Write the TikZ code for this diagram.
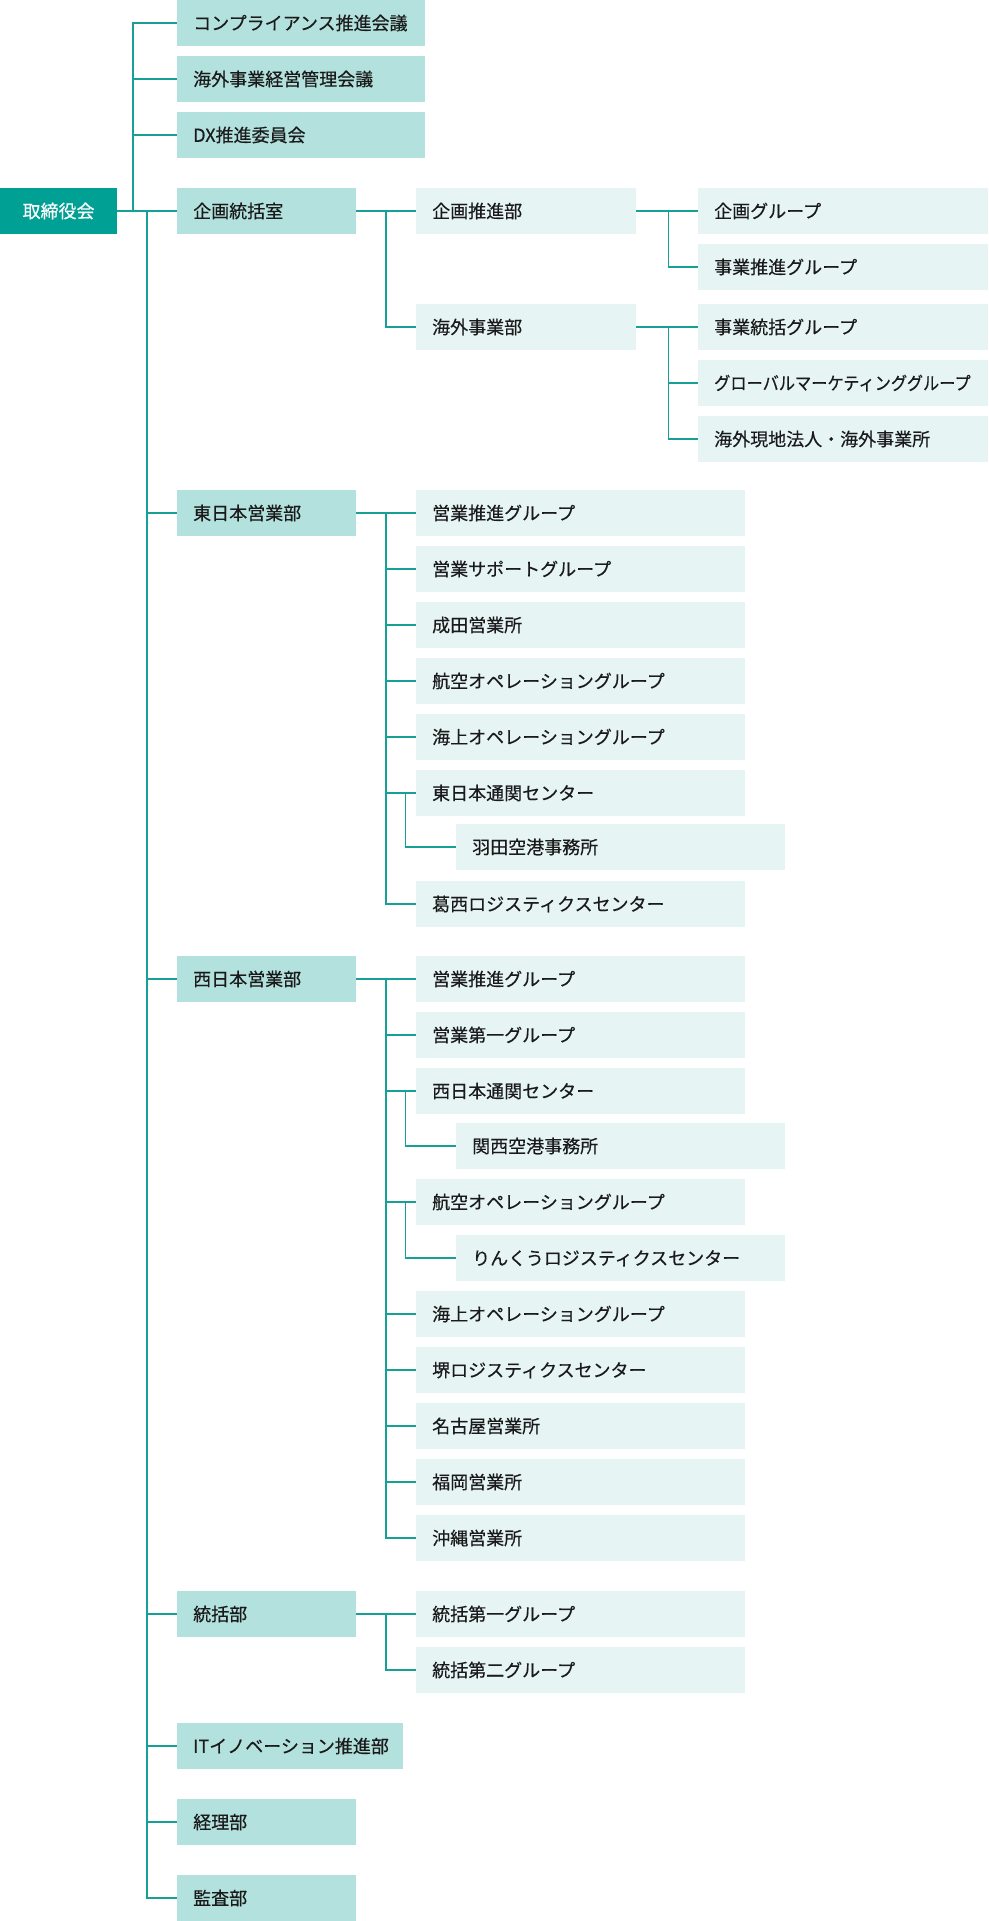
\documentclass[tikz,border=0pt]{standalone}
\usepackage{fontspec}
\newfontfamily\jp{Noto Sans CJK JP}[FakeBold=0.4]
\definecolor{dark}{HTML}{00A094}
\definecolor{mid}{HTML}{B3E2DE}
\definecolor{light}{HTML}{E6F5F4}
\definecolor{linec}{HTML}{17A196}
\definecolor{txt}{HTML}{1A1A1A}
\begin{document}
\begin{tikzpicture}[x=1pt,y=-1pt,
  bx/.style={anchor=north west, inner xsep=16pt, inner ysep=0pt, minimum height=45.7pt,
    align=left, text height=15.8pt, text depth=2.2pt,
    font=\jp\fontsize{18}{18}\selectfont, text=txt},
  lv0/.style={bx, fill=dark, text=white, inner xsep=0pt, text width=116.7pt, align=center},
  topbox/.style={bx, fill=mid, text width=216pt},
  dept/.style={bx, fill=mid, text width=147pt},
  subdept/.style={bx, fill=light, text width=187.7pt},
  grp/.style={bx, fill=light, text width=258pt},
  sec/.style={bx, fill=light, text width=297pt},
  ln/.style={draw=linec, line width=1.2pt}]
\useasboundingbox (0,0) rectangle (988,1921);

% level 0
\node[lv0] (board) at (0,188) {取締役会};

% committees
\node[topbox] (t1) at (177,0) {コンプライアンス推進会議};
\node[topbox] (t2) at (177,56) {海外事業経営管理会議};
\node[topbox] (t3) at (177,112) {DX推進委員会};

% departments
\node[dept] (d1) at (177,188) {企画統括室};
\node[dept] (d2) at (177,490) {東日本営業部};
\node[dept] (d3) at (177,956) {西日本営業部};
\node[dept] (d4) at (177,1591) {統括部};
\node[dept, text width=194pt] (d5) at (177,1723) {ITイノベーション推進部};
\node[dept] (d6) at (177,1799) {経理部};
\node[dept] (d7) at (177,1875) {監査部};

% 企画統括室
\node[subdept] (s1) at (416,188) {企画推進部};
\node[subdept] (s2) at (416,304) {海外事業部};
\node[grp] (g1) at (698,188) {企画グループ};
\node[grp] (g2) at (698,244) {事業推進グループ};
\node[grp] (g3) at (698,304) {事業統括グループ};
\node[grp] (g4) at (698,360) {\scalebox{0.9}[1]{グローバルマーケティンググループ}};
\node[grp] (g5) at (698,416) {海外現地法人・海外事業所};

% 東日本営業部
\node[sec] (e1) at (416,490) {営業推進グループ};
\node[sec] (e2) at (416,546) {営業サポートグループ};
\node[sec] (e3) at (416,602) {成田営業所};
\node[sec] (e4) at (416,658) {航空オペレーショングループ};
\node[sec] (e5) at (416,714) {海上オペレーショングループ};
\node[sec] (e6) at (416,770) {東日本通関センター};
\node[sec] (e6a) at (456,824) {羽田空港事務所};
\node[sec] (e7) at (416,881) {葛西ロジスティクスセンター};

% 西日本営業部
\node[sec] (w1) at (416,956) {営業推進グループ};
\node[sec] (w2) at (416,1012) {営業第一グループ};
\node[sec] (w3) at (416,1068) {西日本通関センター};
\node[sec] (w3a) at (456,1123) {関西空港事務所};
\node[sec] (w4) at (416,1179) {航空オペレーショングループ};
\node[sec] (w4a) at (456,1235) {りんくうロジスティクスセンター};
\node[sec] (w5) at (416,1291) {海上オペレーショングループ};
\node[sec] (w6) at (416,1347) {堺ロジスティクスセンター};
\node[sec] (w7) at (416,1403) {名古屋営業所};
\node[sec] (w8) at (416,1459) {福岡営業所};
\node[sec] (w9) at (416,1515) {沖縄営業所};

% 統括部
\node[sec] (k1) at (416,1591) {統括第一グループ};
\node[sec] (k2) at (416,1647) {統括第二グループ};

% junctions
\coordinate (ja) at (133,210.85);
\coordinate (jb) at (147,210.85);
\coordinate (jc) at (386,210.85);
\coordinate (jd) at (668.5,210.85);
\coordinate (je) at (668.5,326.85);
\coordinate (jf) at (386,512.85);
\coordinate (jg) at (405.5,792.85);
\coordinate (jh) at (386,978.85);
\coordinate (ji) at (405.5,1090.85);
\coordinate (jj) at (405.5,1201.85);
\coordinate (jk) at (386,1613.85);

% connectors
\draw[ln] (board.east) -- (d1.west);
\foreach \n in {t1,t2,t3} \draw[ln] (ja) |- (\n.west);
\foreach \n in {d2,d3,d4,d5,d6,d7} \draw[ln] (jb) |- (\n.west);

\draw[ln] (d1.east) -- (s1.west);
\draw[ln] (jc) |- (s2.west);
\draw[ln] (s1.east) -- (g1.west);
\draw[ln] (jd) |- (g2.west);
\draw[ln] (s2.east) -- (g3.west);
\foreach \n in {g4,g5} \draw[ln] (je) |- (\n.west);

\draw[ln] (d2.east) -- (e1.west);
\foreach \n in {e2,e3,e4,e5,e6,e7} \draw[ln] (jf) |- (\n.west);
\draw[ln] (jg) |- (e6a.west);

\draw[ln] (d3.east) -- (w1.west);
\foreach \n in {w2,w3,w4,w5,w6,w7,w8,w9} \draw[ln] (jh) |- (\n.west);
\draw[ln] (ji) |- (w3a.west);
\draw[ln] (jj) |- (w4a.west);

\draw[ln] (d4.east) -- (k1.west);
\draw[ln] (jk) |- (k2.west);
\end{tikzpicture}
\end{document}
